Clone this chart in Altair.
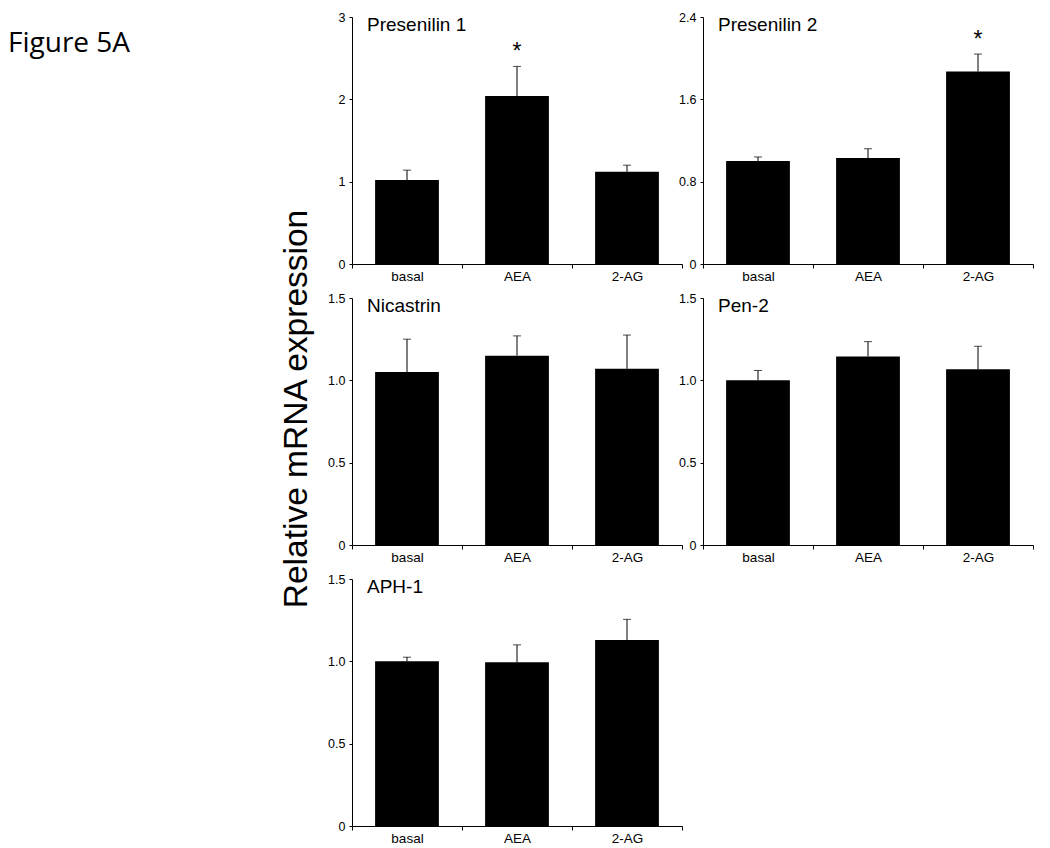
import altair as alt
import pandas as pd

categories = ["basal", "AEA", "2-AG"]

ps1_title = "Presenilin 1"
ps1_mean = [1.02, 2.04, 1.12]
ps1_err = [0.12, 0.36, 0.08]
ps1_sig = [False, True, False]
ps1_ticks = [0, 1, 2, 3]

ps2_title = "Presenilin 2"
ps2_mean = [1.00, 1.03, 1.87]
ps2_err = [0.04, 0.09, 0.17]
ps2_sig = [False, False, True]
ps2_ticks = [0, 0.8, 1.6, 2.4]

nic_title = "Nicastrin"
nic_mean = [1.05, 1.15, 1.07]
nic_err = [0.20, 0.12, 0.205]
nic_sig = [False, False, False]

pen_title = "Pen-2"
pen_mean = [1.00, 1.145, 1.067]
pen_err = [0.06, 0.09, 0.14]
pen_sig = [False, False, False]

aph_title = "APH-1"
aph_mean = [1.00, 0.995, 1.13]
aph_err = [0.025, 0.105, 0.125]
aph_sig = [False, False, False]

half_ticks = [0, 0.5, 1.0, 1.5]

y_label = "Relative mRNA expression"
fig_label = "Figure 5A"

FONT = "Liberation Sans"
W, H = 330, 247


def panel(title, means, errs, sig, ticks, fig=False, ylab=False):
    df = pd.DataFrame({
        "cat": categories,
        "mean": means,
        "top": [m + e for m, e in zip(means, errs)],
        "sig": sig,
    })
    dmax = ticks[-1]
    xenc = alt.X("cat:N", sort=categories,
                 scale=alt.Scale(paddingInner=0, paddingOuter=0),
                 axis=alt.Axis(title=None, labelAngle=0, tickBand="extent",
                               tickSize=4, labelPadding=1, labelFontSize=13.5))
    yaxis = alt.Axis(title=None, values=ticks, tickSize=3, labelPadding=4,
                     labelFontSize=12.5,
                     labelExpr="datum.value == 0 ? '0' : (datum.value % 1 == 0 && " +
                               ("true" if dmax == 3 else "false") +
                               " ? format(datum.value, 'd') : format(datum.value, '.1f'))")
    yscale = alt.Scale(domain=[0, dmax], nice=False, zero=True)
    base = alt.Chart(df)
    bars = base.mark_bar(color="black", width={"band": 0.58}).encode(
        x=xenc, y=alt.Y("mean:Q", scale=yscale, axis=yaxis))
    err = base.mark_rule(color="black", strokeWidth=1).encode(
        x=xenc, y=alt.Y("mean:Q", scale=yscale, axis=yaxis), y2="top:Q")
    cap = base.mark_tick(color="black", size=8, thickness=1).encode(
        x=xenc, y=alt.Y("top:Q", scale=yscale, axis=yaxis))
    star = base.transform_filter("datum.sig").mark_text(
        text="*", fontSize=23, font=FONT, baseline="alphabetic", dy=-7,
        color="black").encode(x=xenc, y=alt.Y("top:Q", scale=yscale, axis=yaxis))
    ttl = alt.Chart(pd.DataFrame({"t": [title]})).mark_text(
        align="left", baseline="alphabetic", fontSize=19, font=FONT,
        color="black").encode(x=alt.value(15), y=alt.value(14), text="t:N")
    layers = [bars, err, cap, star, ttl]
    if fig:
        layers.append(alt.Chart(pd.DataFrame({"t": [fig_label]})).mark_text(
            align="left", baseline="alphabetic", fontSize=28, font="Open Sans",
            color="black").encode(x=alt.value(-344), y=alt.value(35), text="t:N"))
    if ylab:
        layers.append(alt.Chart(pd.DataFrame({"t": [y_label]})).mark_text(
            align="center", baseline="middle", fontSize=33.5, font=FONT, angle=270,
            color="black").encode(x=alt.value(-55), y=alt.value(111), text="t:N"))
    return alt.layer(*layers).properties(width=W, height=H)


p1 = panel(ps1_title, ps1_mean, ps1_err, ps1_sig, ps1_ticks, fig=True)
p2 = panel(ps2_title, ps2_mean, ps2_err, ps2_sig, ps2_ticks)
p3 = panel(nic_title, nic_mean, nic_err, nic_sig, half_ticks, ylab=True)
p4 = panel(pen_title, pen_mean, pen_err, pen_sig, half_ticks)
p5 = panel(aph_title, aph_mean, aph_err, aph_sig, half_ticks)

chart = alt.concat(p1, p2, p3, p4, p5, columns=2,
                   spacing={"row": 34, "column": 21}, bounds="flush").properties(
    padding={"left": 0, "top": 3, "right": 0, "bottom": 0}
).configure_view(stroke=None).configure_axis(
    domainColor="black", tickColor="black", labelColor="black",
    labelFont=FONT, grid=False, domainWidth=1, tickWidth=1)

chart.save("out.html", embed_options={"renderer": "svg", "actions": False})
